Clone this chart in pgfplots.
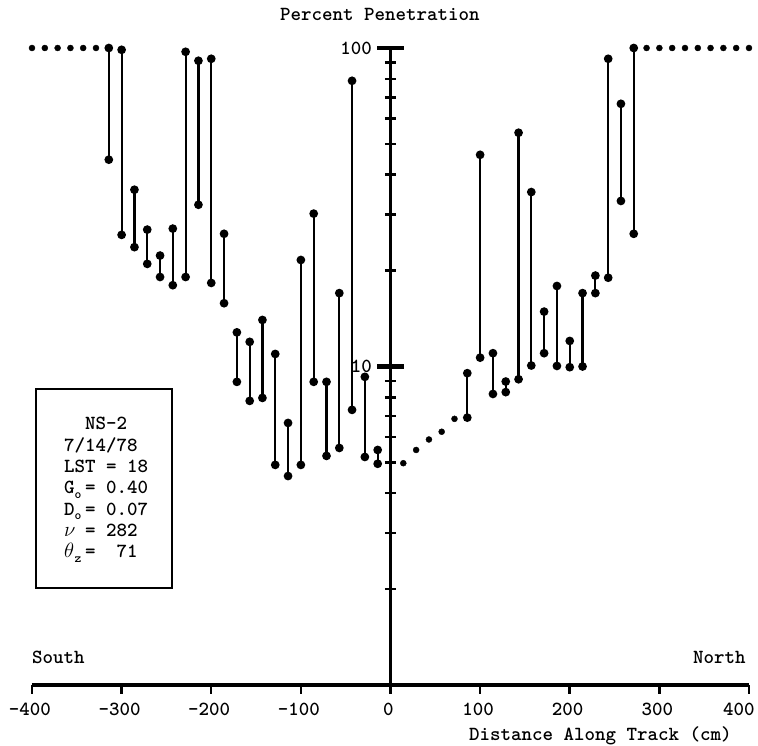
\documentclass[border=0pt]{standalone}
\usepackage{fontspec}
\usepackage{pgfplots}
\pgfplotsset{compat=1.18}
\newcommand\tf{\ttfamily\bfseries\fontsize{20}{21.3}\selectfont}
\newcommand\sub[1]{\makebox[0.525em][l]{\raisebox{-4.5pt}{\fontsize{13}{13}\selectfont #1}}}
\newcommand\col[1]{\makebox[0.525em][l]{#1}}
\begin{document}
\begin{tikzpicture}[font=\tf]
\begin{axis}[
  scale only axis, width=717pt, height=637pt,
  at={(0pt,0pt)}, anchor=south west,
  xmin=-400, xmax=400, ymin=1, ymax=100, ymode=log,
  axis x line=bottom, axis y line=middle,
  x axis line style={-, line width=3.5pt},
  y axis line style={-, line width=3pt},
  xtick={-400,-300,-200,-100,0,100,200,300},
  xticklabels={-400,-300,-200,-100,0,100,200,300},
  extra x ticks={400}, extra x tick labels={400},
  extra x tick style={xticklabel style={xshift=-8pt}},
  ytick={10,100}, yticklabels={10,100},
  minor ytick={2,3,4,5,6,7,8,9,20,30,40,50,60,70,80,90},
  xtick align=outside, ytick align=center,
  major tick length=9pt, minor tick length=11pt,
  tick style={black, line width=2.5pt},
  hide obscured x ticks=false, hide obscured y ticks=false,
  tick label style={font=\tf},
  xticklabel style={anchor=base, yshift=-22pt, xshift=-2pt},
  yticklabel style={anchor=east, fill=white, inner sep=1pt, xshift=-13pt},
  clip=false,
  unbounded coords=jump,
]
% isolated points
\addplot[only marks, mark=*, mark size=3pt, black] coordinates {
 (-400,100) (-385.7,100) (-371.4,100) (-357.1,100) (-342.9,100) (-328.6,100)
 (14.3,4.97) (28.6,5.47) (42.9,5.90) (57.1,6.24) (71.4,6.85)
 (285.7,100) (300,100) (314.3,100) (328.6,100) (342.9,100) (357.1,100) (371.4,100) (385.7,100) (400,100)
};
% ranges
\addplot[black, line width=2.2pt, mark=*, mark size=3.2pt, mark options={solid}] coordinates {
 (-314.3,44.6) (-314.3,100) (-314.3,nan)
 (-300,25.9) (-300,98.7) (-300,nan)
 (-285.7,23.7) (-285.7,35.9) (-285.7,nan)
 (-271.4,21.0) (-271.4,26.9) (-271.4,nan)
 (-257.1,19.1) (-257.1,22.3) (-257.1,nan)
 (-242.9,18.0) (-242.9,27.1) (-242.9,nan)
 (-228.6,19.1) (-228.6,97.3) (-228.6,nan)
 (-214.3,32.2) (-214.3,91.2) (-214.3,nan)
 (-200,18.3) (-200,92.5) (-200,nan)
 (-185.7,15.8) (-185.7,26.1) (-185.7,nan)
 (-171.4,8.95) (-171.4,12.8) (-171.4,nan)
 (-157.1,7.80) (-157.1,11.95) (-157.1,nan)
 (-142.9,7.97) (-142.9,14.0) (-142.9,nan)
 (-128.6,4.91) (-128.6,10.95) (-128.6,nan)
 (-114.3,4.53) (-114.3,6.65) (-114.3,nan)
 (-100,4.91) (-100,21.6) (-100,nan)
 (-85.7,8.95) (-85.7,30.2) (-85.7,nan)
 (-71.4,5.24) (-71.4,8.95) (-71.4,nan)
 (-57.1,5.55) (-57.1,17.0) (-57.1,nan)
 (-42.9,7.31) (-42.9,78.9) (-42.9,nan)
 (-28.6,5.20) (-28.6,9.28) (-28.6,nan)
 (-14.3,4.95) (-14.3,5.47) (-14.3,nan)
 (85.7,6.91) (85.7,9.53) (85.7,nan)
 (100,10.66) (100,46.2) (100,nan)
 (114.3,8.20) (114.3,11.01) (114.3,nan)
 (128.6,8.31) (128.6,8.97) (128.6,nan)
 (142.9,9.12) (142.9,54.2) (142.9,nan)
 (157.1,10.07) (157.1,35.3) (157.1,nan)
 (171.4,11.01) (171.4,14.87) (171.4,nan)
 (185.7,10.04) (185.7,17.9) (185.7,nan)
 (200,9.95) (200,12.03) (200,nan)
 (214.3,10.0) (214.3,17.0) (214.3,nan)
 (228.6,17.0) (228.6,19.3) (228.6,nan)
 (242.9,19.0) (242.9,92.5) (242.9,nan)
 (257.1,33.1) (257.1,66.8) (257.1,nan)
 (271.4,26.1) (271.4,100)
};
% major bars on the central axis
\draw[line width=4.5pt] (axis cs:-15,10) -- (axis cs:15,10);
\draw[line width=4.5pt] (axis cs:-15,100) -- (axis cs:15,100);
\end{axis}
% texts
\node[anchor=base west, inner sep=0pt] at (248pt,664pt) {Percent Penetration};
\node[anchor=base west, inner sep=0pt] at (437pt,-55pt) {Distance Along Track (cm)};
\node[anchor=base west, inner sep=0pt] at (0pt,22pt) {South};
\node[anchor=base west, inner sep=0pt] at (661pt,22pt) {North};
% info box
\draw[line width=2.2pt] (4pt,97pt) rectangle (140pt,296pt);
\node[anchor=base, inner sep=0pt] at (74pt,255pt) {NS-2};
\node[anchor=base west, inner sep=0pt] at (32pt,233.7pt) {7/14/78};
\node[anchor=base west, inner sep=0pt] at (32pt,212.4pt) {LST = 18};
\node[anchor=base west, inner sep=0pt] at (32pt,191.1pt) {G\sub{o}= 0.40};
\node[anchor=base west, inner sep=0pt] at (32pt,169.8pt) {D\sub{o}= 0.07};
\node[anchor=base west, inner sep=0pt] at (32pt,148.5pt) {\col{$\nu$} = 282};
\node[anchor=base west, inner sep=0pt] at (32pt,127.2pt) {\col{$\theta$}\sub{z}=\ \ 71};
\pgfresetboundingbox
\useasboundingbox (-32pt,-60pt) rectangle (726pt,685pt);
\end{tikzpicture}
\end{document}
